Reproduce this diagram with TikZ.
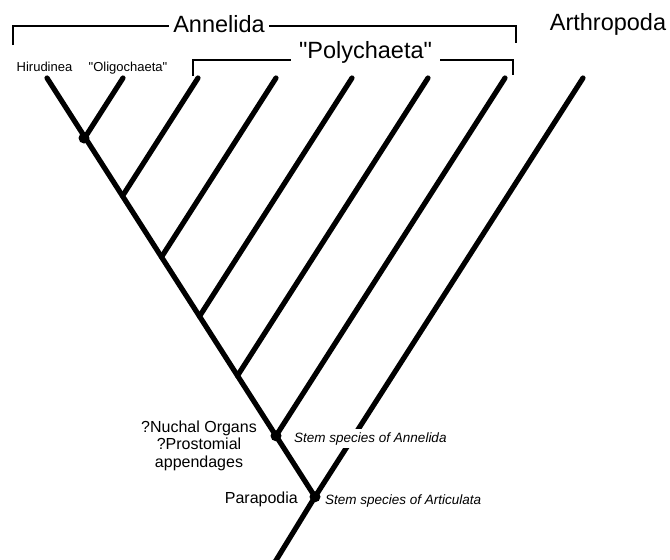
\documentclass[tikz,border=0pt]{standalone}
\usepackage{fontspec}
\setmainfont{Liberation Sans}
\begin{document}
\begin{tikzpicture}[x=1pt,y=-1pt,
 branch/.style={line width=5.2pt,line cap=round},
 bracket/.style={line width=1.7pt},
 dot/.style={circle,fill=black,inner sep=0pt,minimum size=11pt},
 big/.style={font=\fontsize{23.5}{28}\selectfont, inner sep=0pt},
 small/.style={font=\fontsize{13}{15}\selectfont, inner sep=0pt},
 mid/.style={font=\fontsize{16}{17.5}\selectfont, inner sep=0pt},
 stem/.style={font=\fontsize{13.5}{16}\selectfont\itshape, inner sep=0pt},
]
\useasboundingbox (0,0) rectangle (670,560);
% tips
\coordinate (tH) at (47,78);
\coordinate (tO) at (123,78);
\coordinate (tP1) at (198,78);
\coordinate (tP2) at (276,78);
\coordinate (tP3) at (352,78);
\coordinate (tP4) at (428,78);
\coordinate (tP5) at (505,78);
\coordinate (tA) at (583,78);
% internal nodes
\coordinate (n1) at (85,137.4);
\coordinate (n2) at (122.5,196);
\coordinate (n3) at (161.5,257);
\coordinate (n4) at (199.5,316.3);
\coordinate (n5) at (237.5,375.7);
\coordinate (nAn) at (276,435.8);
\coordinate (nAr) at (315,496.8);
\coordinate (root) at (275,562);
% branches
\draw[branch] (tH) -- (n1) -- (n2) -- (n3) -- (n4) -- (n5) -- (nAn) -- (nAr);
\draw[branch,line cap=butt] (nAr) -- (root);
\draw[branch] (tO) -- (n1);
\draw[branch] (tP1) -- (n2);
\draw[branch] (tP2) -- (n3);
\draw[branch] (tP3) -- (n4);
\draw[branch] (tP4) -- (n5);
\draw[branch] (tP5) -- (nAn);
\draw[branch] (tA) -- (nAr);
% dots
\node[dot] (d1) at (84,138) {};
\node[dot] (d2) at (nAn) {};
\node[dot] (d3) at (nAr) {};
% brackets
\coordinate (aL) at (13,45);
\coordinate (aR) at (516,43);
\draw[bracket] (aL) |- (aR |- 0,26) -- (aR);
\node[big,fill=white,inner xsep=4pt,inner ysep=2pt,anchor=base] (ann) at (219,32) {Annelida};
\coordinate (pL) at (193,76);
\coordinate (pR) at (513,75);
\draw[bracket] (pL) |- (pR |- 0,60) -- (pR);
\node[big,fill=white,inner xsep=8pt,inner ysep=2pt,anchor=base] (poly) at (365.5,58) {\textquotedbl Polychaeta\textquotedbl};
\node[big,anchor=base] (arth) at (608,30) {Arthropoda};
% tip labels
\node[small,anchor=base] (hir) at (44.5,71) {Hirudinea};
\node[small,anchor=base] (oli) at (128,71) {\textquotedbl Oligochaeta\textquotedbl};
% character labels
\node[mid,align=center,anchor=base] (nuch) at (199,467) {?Nuchal Organs\\?Prostomial\\appendages};
\node[mid,anchor=base east] (para) at (298,503) {Parapodia};
\node[stem,fill=white,inner xsep=2pt,inner ysep=3.5pt,anchor=base west] (sAn) at (292,442) {Stem species of Annelida};
\node[stem,anchor=base west] (sAr) at (325,504) {Stem species of Articulata};
\end{tikzpicture}
\end{document}
